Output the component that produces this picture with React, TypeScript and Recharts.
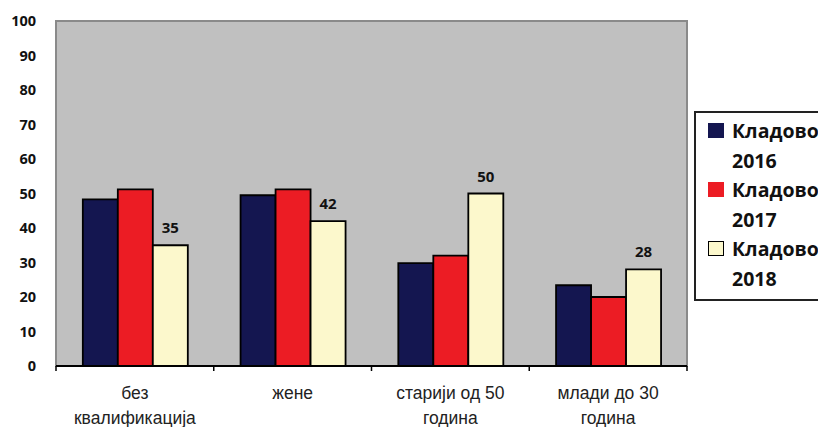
import React from "react";
import {
  BarChart,
  Bar,
  XAxis,
  YAxis,
  LabelList,
  ReferenceArea,
} from "recharts";

const categories = [
  "без|квалификација",
  "жене",
  "старији од 50|година",
  "млади до 30|година",
];
const kladovo2016 = [48.3, 49.5, 29.8, 23.4];
const kladovo2017 = [51.2, 51.2, 32, 20];
const kladovo2018 = [35, 42, 50, 28];
const yTicks = [0, 10, 20, 30, 40, 50, 60, 70, 80, 90, 100];

const seriesInfo = [
  { key: "k2016", name: "Кладово 2016", color: "#141650" },
  { key: "k2017", name: "Кладово 2017", color: "#ec1c24" },
  { key: "k2018", name: "Кладово 2018", color: "#fcf8cc" },
];

const data = categories.map((c, i) => ({
  name: c,
  k2016: kladovo2016[i],
  k2017: kladovo2017[i],
  k2018: kladovo2018[i],
}));

const BAND = (818 - 56 - 131) / categories.length;

const CategoryTick = (props: any) => {
  const { x, y, payload, index } = props;
  const lines = String(payload.value).split("|");
  return (
    <g>
      <line x1={x - BAND / 2} y1={y - 8} x2={x - BAND / 2} y2={y - 3} stroke="#000" strokeWidth={1.5} />
      {index === categories.length - 1 && (
        <line x1={x + BAND / 2} y1={y - 8} x2={x + BAND / 2} y2={y - 3} stroke="#000" strokeWidth={1.5} />
      )}
      <text
        x={x}
        y={y + 25}
        textAnchor="middle"
        fontFamily="Liberation Sans, Arial"
        fontSize={17.5}
        fill="#222"
      >
        {lines.map((l: string, i: number) => (
          <tspan key={i} x={x} dy={i === 0 ? 0 : 25}>
            {l}
          </tspan>
        ))}
      </text>
    </g>
  );
};

const LegendBox = () => (
  <div
    style={{
      position: "absolute",
      left: 694,
      top: 111,
      width: 140,
      height: 190,
      border: "2px solid #222",
      background: "#fff",
      boxSizing: "border-box",
      paddingTop: 3,
      paddingLeft: 12,
      fontFamily: "Open Sans",
      fontWeight: 700,
      fontSize: 19.5,
      lineHeight: "29.5px",
      color: "#111",
      whiteSpace: "nowrap",
    }}
  >
    {seriesInfo.map((s) => {
      const [a, b] = s.name.split(" ");
      return (
        <div key={s.key} style={{ position: "relative", paddingLeft: 24 }}>
          <span
            style={{
              position: "absolute",
              left: 0,
              top: 7,
              width: 16,
              height: 15,
              boxSizing: "border-box",
              background: s.color,
              border: s.key === "k2018" ? "1.5px solid #000" : "none",
            }}
          />
          <div>{a}</div>
          <div>{b}</div>
        </div>
      );
    })}
  </div>
);

export default function App() {
  return (
    <div
      style={{
        position: "fixed",
        left: 0,
        top: 0,
        width: 818,
        height: 427,
        overflow: "hidden",
        background: "#fff",
      }}
    >
      <BarChart
        width={818}
        height={427}
        data={data}
        margin={{ top: 21, right: 131, left: 0, bottom: 0 }}
        barCategoryGap="17%"
        barGap={0}
      >
        <ReferenceArea
          y1={0}
          y2={100}
          fill="#c0c0c0"
          fillOpacity={1}
          stroke="#8a8a8a"
          strokeWidth={2}
        />
        <XAxis
          dataKey="name"
          height={61}
          tickLine={false}
          axisLine={{ stroke: "#000", strokeWidth: 2 }}
          tick={<CategoryTick />}
          interval={0}
        />
        <YAxis
          width={56}
          domain={[0, 100]}
          ticks={yTicks}
          axisLine={false}
          tickLine={false}
          tickMargin={14}
          tick={{
            fill: "#111",
            fontFamily: "Open Sans",
            fontWeight: 700,
            fontSize: 14.5,
          }}
        />
        {seriesInfo.map((s) => (
          <Bar
            key={s.key}
            dataKey={s.key}
            name={s.name}
            fill={s.color}
            stroke="#000"
            strokeWidth={1.8}
            isAnimationActive={false}
          >
            {s.key === "k2018" && (
              <LabelList
                dataKey={s.key}
                position="top"
                offset={12}
                fill="#111"
                fontFamily="Open Sans"
                fontWeight={700}
                fontSize={15}
              />
            )}
          </Bar>
        ))}
      </BarChart>
      <LegendBox />
    </div>
  );
}
